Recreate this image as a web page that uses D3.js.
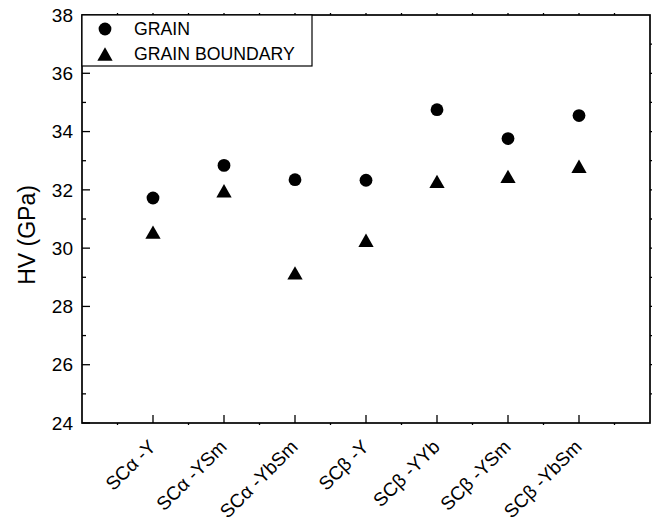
<!DOCTYPE html>
<html><head><meta charset="utf-8">
<script src="https://cdn.jsdelivr.net/npm/d3@7"></script>
<style>
html,body{margin:0;padding:0;background:#fff;}
svg{display:block;font-family:"Liberation Sans",Arial,sans-serif;}
</style></head>
<body><svg id="c" width="656" height="526"></svg>
<script>
const categories = ["SCα -Y","SCα -YSm","SCα -YbSm","SCβ -Y","SCβ -YYb","SCβ -YSm","SCβ -YbSm"];
const grain = [31.72, 32.84, 32.35, 32.33, 34.75, 33.76, 34.55];
const grainBoundary = [30.55, 31.97, 29.15, 30.27, 32.29, 32.46, 32.81];
const yTicks = [24, 26, 28, 30, 32, 34, 36, 38];
const seriesNames = ["GRAIN", "GRAIN BOUNDARY"];

const svg = d3.select("#c");
const L = 82, R = 650, T = 15, B = 423;
const x = d3.scaleLinear().domain([0, categories.length + 1]).range([L, R]);
const y = d3.scaleLinear().domain([24, 38]).range([B, T]);

const majorX = categories.map((d, i) => i + 1);
const minorX = d3.range(0.5, categories.length + 1, 1);
const minorY = d3.range(25, 38, 2);
const allY = d3.range(25, 38, 1);

// frame
svg.append("rect").attr("x", L).attr("y", T).attr("width", R - L).attr("height", B - T)
  .attr("fill", "none").attr("stroke", "#000").attr("stroke-width", 1.7);

const g = svg.append("g").attr("stroke", "#000").attr("stroke-width", 1.3);
// bottom x ticks: major inward, minor tiny outward
majorX.forEach(v => {
  g.append("line").attr("x1", x(v)).attr("x2", x(v)).attr("y1", B).attr("y2", B - 8);
});
minorX.forEach(v => {
  g.append("line").attr("x1", x(v)).attr("x2", x(v)).attr("y1", B).attr("y2", B + 2);
});
// top ticks: tiny outward
majorX.concat(minorX).forEach(v => {
  g.append("line").attr("x1", x(v)).attr("x2", x(v)).attr("y1", T).attr("y2", T - 2);
});
// left ticks inward
yTicks.forEach(v => {
  g.append("line").attr("x1", L).attr("x2", L + 8).attr("y1", y(v)).attr("y2", y(v));
});
minorY.forEach(v => {
  g.append("line").attr("x1", L).attr("x2", L + 4).attr("y1", y(v)).attr("y2", y(v));
});
// right ticks: tiny outward
allY.forEach(v => {
  g.append("line").attr("x1", R).attr("x2", R + 2).attr("y1", y(v)).attr("y2", y(v));
});

// y tick labels
svg.append("g").selectAll("text").data(yTicks).join("text")
  .attr("x", L - 9).attr("y", d => y(d)).attr("dy", "0.35em")
  .attr("text-anchor", "end").attr("font-size", 19).text(d => d);

// y axis title
svg.append("text").attr("transform", `translate(35,235) rotate(-90)`)
  .attr("text-anchor", "middle").attr("font-size", 23).text("HV (GPa)");

// x labels
svg.append("g").selectAll("text").data(categories).join("text")
  .attr("transform", (d, i) => `translate(${x(i + 1) + 4},${B + 25}) rotate(-45)`)
  .attr("text-anchor", "end").attr("font-size", 19).text(d => d);

const tri = (w, h) => `M0,${-h / 2}L${w / 2},${h / 2}L${-w / 2},${h / 2}Z`;

// points
svg.append("g").selectAll("circle").data(grain).join("circle")
  .attr("cx", (d, i) => x(i + 1)).attr("cy", d => y(d)).attr("r", 6.4).attr("fill", "#000");
svg.append("g").selectAll("path").data(grainBoundary).join("path")
  .attr("transform", (d, i) => `translate(${x(i + 1)},${y(d)})`)
  .attr("d", tri(15.3, 13.3)).attr("fill", "#000");

// legend
const lg = svg.append("g");
lg.append("rect").attr("x", L).attr("y", T).attr("width", 230).attr("height", 51)
  .attr("fill", "#fff").attr("stroke", "#000").attr("stroke-width", 1.2);
lg.append("circle").attr("cx", 105).attr("cy", 29).attr("r", 6.4).attr("fill", "#000");
lg.append("path").attr("transform", "translate(105,54)").attr("d", tri(15.3, 13.3)).attr("fill", "#000");
lg.selectAll("text").data(seriesNames).join("text")
  .attr("x", 134).attr("y", (d, i) => i === 0 ? 35.3 : 60)
  .attr("font-size", 17.7).text(d => d);
</script></body></html>
